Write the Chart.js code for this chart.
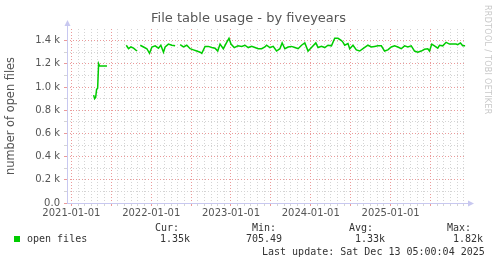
<!DOCTYPE html>
<html>
<head>
<meta charset="utf-8">
<script src="https://cdn.jsdelivr.net/npm/chart.js@4/dist/chart.umd.min.js"></script>
<style>
  body { margin: 0; background: #fff; }
  #wrap { position: relative; width: 497px; height: 264px; overflow: hidden; }
  #wrap canvas { position: absolute; left: 0; top: 0; }
  .t { position: absolute; white-space: pre; }
  .title { left: 0; width: 497px; top: 10px; text-align: center; font: 13px "DejaVu Sans", sans-serif; color: #555; }
  .mono { font: 10px "DejaVu Sans Mono", monospace; color: #333; line-height: 12px; }
  .wm { left: 483px; top: 5px; font: 8px "DejaVu Sans", sans-serif; color: #c8c8c8; writing-mode: vertical-rl; letter-spacing: 0.3px; }
  .swatch { position: absolute; left: 14px; top: 236px; width: 6px; height: 6px; background: #00cc00; }
</style>
</head>
<body>
<div id="wrap">
  <canvas id="chart" width="497" height="264"></canvas>
  <div class="t title">File table usage - by fiveyears</div>
  <div class="t wm">RRDTOOL / TOBI OETIKER</div>
  <div class="swatch"></div>
  <div class="t mono" style="left:27px;top:233px">open files</div>
  <div class="t mono" style="left:155px;top:222px">Cur:</div>
  <div class="t mono" style="left:160px;top:233px">1.35k</div>
  <div class="t mono" style="left:252px;top:222px">Min:</div>
  <div class="t mono" style="left:246px;top:233px">705.49</div>
  <div class="t mono" style="left:349px;top:222px">Avg:</div>
  <div class="t mono" style="left:355px;top:233px">1.33k</div>
  <div class="t mono" style="left:447px;top:222px">Max:</div>
  <div class="t mono" style="left:453px;top:233px">1.82k</div>
  <div class="t mono" style="left:262px;top:246px">Last update: Sat Dec 13 05:00:04 2025</div>
</div>
<script>
// time as decimal years
const fileTimes = [
  2021.279, 2021.291, 2021.304, 2021.316, 2021.329, 2021.341, 2021.354, 2021.446, 2021.5,
  2021.688, 2021.716, 2021.746, 2021.779, 2021.821, 2021.845,
  2021.863, 2021.904, 2021.946, 2021.979, 2022.009, 2022.05, 2022.091, 2022.121, 2022.154,
  2022.175, 2022.216, 2022.259, 2022.30, 2022.33,
  2022.363, 2022.404, 2022.446, 2022.488, 2022.529, 2022.571, 2022.613, 2022.634, 2022.675,
  2022.716, 2022.759, 2022.80, 2022.834, 2022.863, 2022.904, 2022.946, 2022.975, 2023.0,
  2023.041, 2023.088, 2023.134, 2023.175, 2023.216, 2023.259, 2023.30, 2023.341, 2023.384,
  2023.425, 2023.446, 2023.488, 2023.529, 2023.571, 2023.613, 2023.641, 2023.675, 2023.716,
  2023.759, 2023.80, 2023.841, 2023.884, 2023.925, 2023.966, 2024.009, 2024.063, 2024.091,
  2024.134, 2024.175, 2024.216, 2024.259, 2024.30, 2024.341, 2024.384, 2024.404, 2024.425,
  2024.466, 2024.488, 2024.529, 2024.571, 2024.613, 2024.654, 2024.716, 2024.759, 2024.80,
  2024.841, 2024.884, 2024.925, 2024.966, 2025.009, 2025.05, 2025.091, 2025.134, 2025.175,
  2025.216, 2025.259, 2025.30, 2025.341, 2025.384, 2025.425, 2025.466, 2025.488, 2025.516,
  2025.55, 2025.591, 2025.613, 2025.654, 2025.696, 2025.738, 2025.779, 2025.821, 2025.841,
  2025.875, 2025.904, 2025.934
];
// open files, null = no data
const openFiles = [
  930, 900, 910, 980, 990, 1200, 1180, 1180, null,
  1360, 1330, 1345, 1335, 1310, null,
  1360, 1345, 1330, 1290, 1345, 1355, 1335, 1360, 1300,
  1345, 1370, 1360, 1355, null,
  1365, 1345, 1360, 1330, 1320, 1310, 1300, 1290, 1350,
  1350, 1340, 1335, 1310, 1370, 1330, 1385, 1420, 1370,
  1340, 1355, 1350, 1360, 1340, 1350, 1340, 1330, 1330,
  1345, 1360, 1340, 1350, 1310, 1330, 1380, 1330, 1345,
  1350, 1340, 1330, 1360, 1380, 1310, 1340, 1380, 1340,
  1350, 1340, 1360, 1355, 1420, 1420, 1400, 1385, 1360,
  1375, 1330, 1360, 1320, 1310, 1330, 1360, 1345, 1350,
  1355, 1355, 1310, 1320, 1345, 1355, 1345, 1330, 1355,
  1345, 1355, 1310, 1300, 1310, 1325, 1330, 1310, 1370,
  1355, 1335, 1360, 1355, 1385, 1370, 1370, 1370, 1365,
  1380, 1355, 1355
];
const xTickLabels = ['2021-01-01', '2022-01-01', '2023-01-01', '2024-01-01', '2025-01-01'];
const xMin = 2020.945, xMax = 2025.945;

const gray = '#d4d4d4', red = '#eb9a9a', axisBlue = '#c8c8f0';

// little arrows at the axis ends, like rrdtool
const axisArrows = {
  id: 'axisArrows',
  afterDraw(chart) {
    const { ctx, chartArea: a } = chart;
    ctx.save();
    ctx.strokeStyle = axisBlue;
    ctx.fillStyle = axisBlue;
    ctx.lineWidth = 1;
    ctx.beginPath();
    ctx.moveTo(a.left + 0.5, a.bottom); ctx.lineTo(a.left + 0.5, a.top - 5);
    ctx.moveTo(a.left, a.bottom + 0.5); ctx.lineTo(a.right + 4, a.bottom + 0.5);
    ctx.stroke();
    ctx.beginPath();
    ctx.moveTo(a.left + 0.5, a.top - 9); ctx.lineTo(a.left - 2.5, a.top - 3); ctx.lineTo(a.left + 3.5, a.top - 3);
    ctx.closePath(); ctx.fill();
    ctx.beginPath();
    ctx.moveTo(a.right + 8, a.bottom + 0.5); ctx.lineTo(a.right + 2, a.bottom - 2.5); ctx.lineTo(a.right + 2, a.bottom + 3.5);
    ctx.closePath(); ctx.fill();
    ctx.restore();
  }
};

new Chart(document.getElementById('chart'), {
  type: 'line',
  data: {
    datasets: [{
      label: 'open files',
      data: fileTimes.map((t, i) => ({ x: t, y: openFiles[i] })),
      borderColor: '#00cc00',
      borderWidth: 1.5,
      pointRadius: 0,
      spanGaps: false,
      tension: 0
    }]
  },
  options: {
    responsive: false,
    animation: false,
    devicePixelRatio: 1,
    layout: { padding: { top: 29, left: 0, right: 31, bottom: 41 } },
    plugins: { legend: { display: false }, title: { display: false }, tooltip: { enabled: false } },
    scales: {
      x: {
        type: 'linear',
        min: xMin,
        max: xMax,
        afterBuildTicks: scale => {
          const ticks = [];
          for (let k = 0; k < 60; k++) ticks.push({ value: 2021 + k / 12 });
          scale.ticks = ticks;
        },
        afterFit: scale => { scale.height = 20; },
        ticks: {
          autoSkip: false,
          maxRotation: 0,
          padding: 1,
          color: '#555',
          font: { family: 'DejaVu Sans', size: 10 },
          callback: value => {
            const k = Math.round((value - 2021) * 12);
            return k % 12 === 0 ? xTickLabels[k / 12] : '';
          }
        },
        grid: {
          tickLength: 3,
          color: ctx => {
            const k = Math.round((ctx.tick.value - 2021) * 12);
            return k % 6 === 0 ? red : gray;
          }
        },
        // in v4 border.dash is what dashes the grid lines
        border: { display: false, dash: [1, 2] }
      },
      y: {
        min: 0,
        max: 1500,
        afterBuildTicks: scale => {
          const ticks = [];
          for (let v = 0; v <= 1500; v += 100) ticks.push({ value: v });
          scale.ticks = ticks;
        },
        afterFit: scale => { scale.width = 67; },
        title: {
          display: true,
          text: 'number of open files',
          color: '#555',
          font: { family: 'DejaVu Sans', size: 11.4 },
          padding: { top: 4, bottom: 0 }
        },
        ticks: {
          autoSkip: false,
          padding: 4,
          color: '#555',
          font: { family: 'DejaVu Sans', size: 10 },
          callback: value => {
            if (value % 200 !== 0 || value > 1400) return '';
            return value === 0 ? '0.0' : (value / 1000).toFixed(1) + ' k';
          }
        },
        grid: {
          tickLength: 3,
          color: ctx => {
            const v = ctx.tick.value;
            if (v >= 1500) return 'rgba(0,0,0,0)';
            return v % 200 === 0 ? red : gray;
          }
        },
        border: { display: false, dash: [1, 2] }
      }
    }
  },
  plugins: [axisArrows]
});
</script>
</body>
</html>
